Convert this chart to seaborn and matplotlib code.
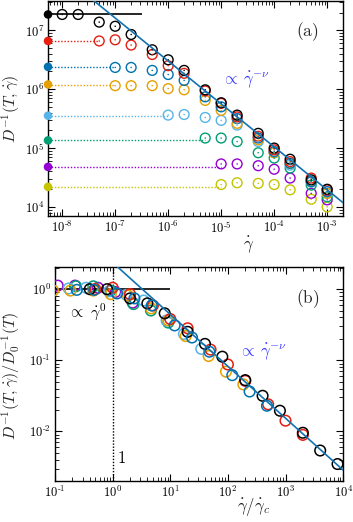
import numpy as np
import pandas as pd
import matplotlib
matplotlib.use("Agg")
import matplotlib.pyplot as plt
import seaborn as sns
from matplotlib.ticker import LogLocator, FuncFormatter, NullFormatter

sns.set_theme(style="ticks")
plt.rcParams["font.family"] = ["DejaVu Sans"]
plt.rcParams["mathtext.fontset"] = "cm"

# ---------------- data ----------------
series = ["T1", "T2", "T3", "T4", "T5", "T6", "T7", "T8"]
colors = ["#000000", "#e51e10", "#0072b2", "#e69f00", "#56b4e9", "#009e73", "#9400d3", "#c4c400"]

gdot_grid = [1e-8, 2e-8, 5e-8, 1e-7, 2e-7, 5e-7, 1e-6, 2e-6, 5e-6,
             1e-5, 2e-5, 5e-5, 1e-4, 2e-4, 5e-4, 1e-3]
start_idx = [0, 2, 3, 3, 6, 8, 9, 9]   # first shear rate of each series in gdot_grid

logD_T1 = [7.27, 7.27, 7.14, 7.07, 6.93, 6.67, 6.50, 6.32, 5.99, 5.77, 5.56, 5.25, 5.00, 4.81, 4.46, 4.30]
logD_T2 = [6.82, 6.84, 6.75, 6.59, 6.40, 6.27, 5.97, 5.76, 5.53, 5.20, 4.97, 4.77, 4.49, 4.29]
logD_T3 = [6.37, 6.37, 6.32, 6.25, 6.15, 5.87, 5.70, 5.50, 5.17, 4.94, 4.74, 4.43, 4.26]
logD_T4 = [6.06, 6.06, 6.06, 6.01, 5.99, 5.81, 5.64, 5.42, 5.14, 4.92, 4.74, 4.43, 4.23]
logD_T5 = [5.56, 5.57, 5.52, 5.47, 5.39, 5.11, 4.92, 4.71, 4.42, 4.23]
logD_T6 = [5.17, 5.17, 5.11, 4.92, 4.83, 4.66, 4.37, 4.17]
logD_T7 = [4.73, 4.73, 4.70, 4.64, 4.49, 4.23, 4.12]
logD_T8 = [4.38, 4.41, 4.40, 4.38, 4.29, 4.13, 4.00]
logD_all = [logD_T1, logD_T2, logD_T3, logD_T4, logD_T5, logD_T6, logD_T7, logD_T8]

# zero-shear plateau D0^{-1}(T) (filled symbols on the left axis)
logD0 = [7.27, 6.82, 6.38, 6.08, 5.55, 5.13, 4.68, 4.34]
# crossover shear rates used for the collapse in panel (b) (T8 not shown there)
gdot_c = [2.5e-8, 1.0e-7, 4.2e-7, 1.08e-6, 5.8e-6, 2.17e-5, 9.0e-5, None]
gdot_max_b = 2e-4

nu = 0.73
prefactor_a = 10 ** 2.10
prefactor_b = 2.37
black_line_end = 3.2e-7
xlim_a = (5.4e-9, 2.0e-3)
ylim_a = (7.0e3, 3.1e7)
xlim_b = (0.1, 1e4)
ylim_b = (2.0e-3, 2.05)

# ---------------- tables ----------------
rows_a, rows_b = [], []
for name, s0, logs, d0, gc in zip(series, start_idx, logD_all, logD0, gdot_c):
    for g, ld in zip(gdot_grid[s0:], logs):
        rows_a.append(dict(series=name, gdot=g, Dinv=10 ** ld))
        if gc is not None and g <= gdot_max_b * 1.0001:
            rows_b.append(dict(series=name, x=g / gc, y=10 ** (ld - d0)))
df_a = pd.DataFrame(rows_a)
df_b = pd.DataFrame(rows_b)
pal = dict(zip(series, colors))

# draw order: last series first so black ends on top
order = series[::-1]
df_a["o"] = df_a["series"].map({s: i for i, s in enumerate(order)})
df_a = df_a.sort_values("o", kind="stable")
order_b = ["T7", "T6", "T5", "T4", "T2", "T1", "T3"]
df_b["o"] = df_b["series"].map({s: i for i, s in enumerate(order_b)})
df_b = df_b.sort_values("o", kind="stable")

fig = plt.figure(figsize=(3.53, 5.22), dpi=100)
ax1 = fig.add_axes([0.136, 0.5862, 0.836, 0.411])
ax2 = fig.add_axes([0.156, 0.0785, 0.816, 0.41])

fit_col = "#1372b0"
txt_blue = "#3a3aff"


def hollow(coll, lw):
    fc = coll.get_facecolors()
    coll.set_edgecolors(fc)
    coll.set_facecolors("none")
    coll.set_linewidths(lw)


def tick_fmt(v, p):
    e = int(round(np.log10(v)))
    if e < 0:
        return r"$\mathsf{10^{\text{-}%d}}$" % (-e)
    return r"$\mathsf{10^{%d}}$" % e


def style_axes(ax, xlim, ylim):
    ax.set_xscale("log")
    ax.set_yscale("log")
    ax.set_xlim(*xlim)
    ax.set_ylim(*ylim)
    for sp in ax.spines.values():
        sp.set_linewidth(1.0)
        sp.set_color("black")
        sp.set_visible(True)
    for axis in (ax.xaxis, ax.yaxis):
        axis.set_major_locator(LogLocator(base=10, numticks=20))
        axis.set_minor_locator(LogLocator(base=10, subs=np.arange(2, 10), numticks=20))
        axis.set_major_formatter(FuncFormatter(tick_fmt))
        axis.set_minor_formatter(NullFormatter())
    ax.tick_params(which="both", direction="in", top=True, right=True,
                   colors="black", labelsize=9, pad=3)
    ax.tick_params(which="major", length=5, width=0.8)
    ax.tick_params(which="minor", length=2.8, width=0.6)


# ---------------- panel (a) ----------------
style_axes(ax1, xlim_a, ylim_a)
# dotted guides from the axis to the first point of each series
for name, s0, d0, col in zip(series[1:], start_idx[1:], logD0[1:], colors[1:]):
    ax1.hlines(10 ** d0, xlim_a[0], gdot_grid[s0], colors=col,
               linestyles=(0, (1, 1.3)), linewidth=1.0, zorder=1)
ax1.hlines(10 ** logD0[0], xlim_a[0], black_line_end, colors="black", linewidth=1.2, zorder=1)

fit_x = np.array(xlim_a)
sns.lineplot(x=fit_x, y=prefactor_a * fit_x ** (-nu), ax=ax1, color=fit_col,
             linewidth=1.2, zorder=4)

sns.scatterplot(data=df_a, x="gdot", y="Dinv", hue="series", palette=pal,
                marker="o", s=50, ax=ax1, legend=False, zorder=3)
hollow(ax1.collections[-1], 1.0)
sns.scatterplot(data=df_a, x="gdot", y="Dinv", hue="series", palette=pal,
                marker="o", s=1.2, linewidth=0, ax=ax1, legend=False, zorder=3)

df_left = pd.DataFrame(dict(series=series, x=[xlim_a[0]] * len(series),
                            y=[10 ** v for v in logD0]))
sns.scatterplot(data=df_left, x="x", y="y", hue="series", palette=pal,
                marker="o", s=38, linewidth=0, ax=ax1, legend=False, zorder=6)
ax1.collections[-1].set_clip_on(False)

ax1.set_xlabel(r"$\dot\gamma$", fontsize=12)
ax1.set_ylabel(r"$D^{-1}(T,\dot\gamma)$", fontsize=11.5)
ax1.xaxis.set_label_coords(0.68, -0.085)
ax1.yaxis.set_label_coords(-0.088, 0.5)
ax1.text(0.88, 0.86, r"$\mathrm{(a)}$", transform=ax1.transAxes, fontsize=12.5,
         ha="center", va="center")
ax1.text(0.59, 0.633, r"$\propto\,\dot\gamma^{-\nu}$", transform=ax1.transAxes,
         fontsize=12, color=txt_blue, ha="left", va="center")

# ---------------- panel (b) ----------------
style_axes(ax2, xlim_b, ylim_b)
ax2.axvline(1.0, color="black", linestyle=(0, (1, 1.2)), linewidth=1.0, zorder=1)
ax2.hlines(1.0, xlim_b[0], 10.0, colors="black", linewidth=1.2, zorder=1)
fit_xb = np.array(xlim_b)
sns.lineplot(x=fit_xb, y=prefactor_b * fit_xb ** (-nu), ax=ax2, color=fit_col,
             linewidth=1.2, zorder=4)
sns.scatterplot(data=df_b, x="x", y="y", hue="series", palette=pal,
                marker="o", s=58, ax=ax2, legend=False, zorder=3)
hollow(ax2.collections[-1], 1.1)

ax2.set_xlabel(r"$\dot\gamma/\dot\gamma_c$", fontsize=12)
ax2.set_ylabel(r"$D^{-1}(T,\dot\gamma)/D_0^{-1}(T)$", fontsize=11.5)
ax2.xaxis.set_label_coords(0.69, -0.075)
ax2.yaxis.set_label_coords(-0.115, 0.49)
ax2.text(0.878, 0.85, r"$\mathrm{(b)}$", transform=ax2.transAxes, fontsize=12.5,
         ha="center", va="center")
ax2.text(0.045, 0.79, r"$\propto\ \dot\gamma^{0}$", transform=ax2.transAxes,
         fontsize=11.5, color="black", ha="left", va="center")
ax2.text(0.64, 0.603, r"$\propto\,\dot\gamma^{-\nu}$", transform=ax2.transAxes,
         fontsize=12, color=txt_blue, ha="left", va="center")
ax2.text(0.215, 0.107, r"$1$", transform=ax2.transAxes,
         fontsize=12, color="black", ha="left", va="center")

fig.savefig("out.png", dpi=100)
